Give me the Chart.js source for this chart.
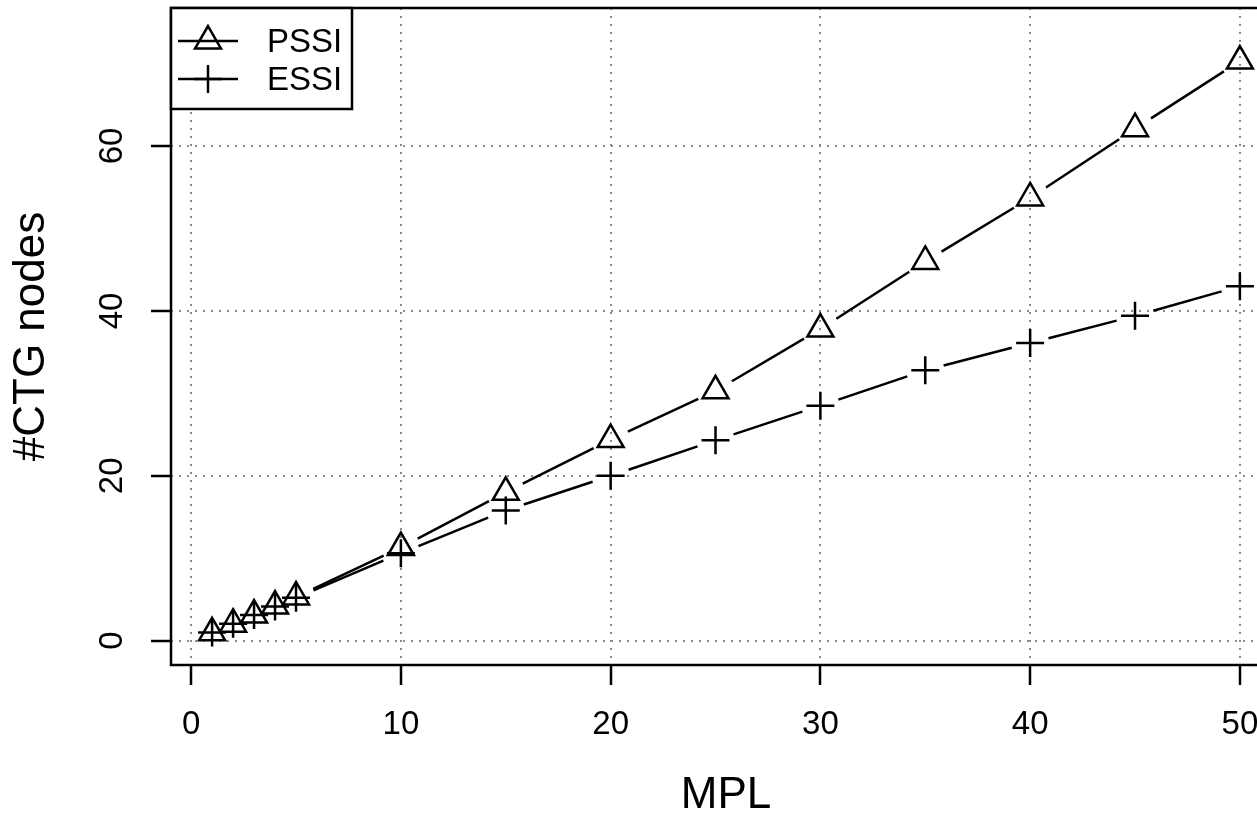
<!DOCTYPE html>
<html>
<head>
<meta charset="utf-8">
<title>#CTG nodes vs MPL</title>
<script src="https://cdn.jsdelivr.net/npm/chart.js@4"></script>
<style>
  html, body { margin: 0; padding: 0; overflow: hidden; background: #fff; }
  canvas { display: block; }
</style>
</head>
<body>
<canvas id="ctg" width="1290" height="818"></canvas>
<script>
// number of CTG nodes for each MPL setting
var mpl = [1, 2, 3, 4, 5, 10, 15, 20, 25, 30, 35, 40, 45, 50];
var pssiNodes = [0.95, 2.0, 3.1, 4.2, 5.3, 11.3, 18.0, 24.4, 30.3, 37.8, 46.0, 53.7, 62.1, 70.3];
var essiNodes = [1.0, 2.05, 3.1, 4.15, 5.2, 10.6, 15.8, 20.0, 24.3, 28.5, 32.8, 36.1, 39.4, 43.0];
var seriesNames = ['PSSI', 'ESSI'];
var xTicks = [0, 10, 20, 30, 40, 50];
var yTicks = [0, 20, 40, 60];

var FONT = "'Liberation Sans', Arial, Helvetica, sans-serif";
Chart.defaults.font.family = FONT;
Chart.defaults.color = '#000';

function toXY(xs, ys) {
  return xs.map(function (x, i) { return { x: x, y: ys[i] }; });
}

// lines between points, stopped short of each marker (R type="b" look)
var gapLines = {
  id: 'gapLines',
  beforeDatasetsDraw: function (chart) {
    var ctx = chart.ctx;
    var area = chart.chartArea;
    var gap = 19;
    ctx.save();
    ctx.beginPath();
    ctx.rect(area.left, area.top, area.right - area.left, area.bottom - area.top);
    ctx.clip();
    ctx.strokeStyle = '#000';
    ctx.lineWidth = 2.5;
    chart.data.datasets.forEach(function (ds, di) {
      var pts = chart.getDatasetMeta(di).data;
      for (var i = 1; i < pts.length; i++) {
        var a = pts[i - 1], b = pts[i];
        var dx = b.x - a.x, dy = b.y - a.y;
        var len = Math.sqrt(dx * dx + dy * dy);
        if (len <= 2 * gap) continue;
        var ux = dx / len, uy = dy / len;
        ctx.beginPath();
        ctx.moveTo(a.x + ux * gap, a.y + uy * gap);
        ctx.lineTo(b.x - ux * gap, b.y - uy * gap);
        ctx.stroke();
      }
    });
    ctx.restore();
  }
};

// plot box, rotated y tick labels and the boxed legend
var frame = {
  id: 'frame',
  afterDraw: function (chart) {
    var ctx = chart.ctx;
    var area = chart.chartArea;
    var yScale = chart.scales.y;
    ctx.save();
    ctx.strokeStyle = '#000';
    ctx.lineWidth = 2.5;
    ctx.strokeRect(area.left, area.top, area.right - area.left, area.bottom - area.top);

    // y tick labels, parallel to the axis
    ctx.fillStyle = '#000';
    ctx.font = '33px ' + FONT;
    ctx.textAlign = 'center';
    ctx.textBaseline = 'middle';
    yTicks.forEach(function (v) {
      ctx.save();
      ctx.translate(113, yScale.getPixelForValue(v));
      ctx.rotate(-Math.PI / 2);
      ctx.fillText(String(v), 0, 0);
      ctx.restore();
    });

    // legend
    var lx = area.left, ly = area.top;
    ctx.fillStyle = '#fff';
    ctx.fillRect(lx, ly, 181, 101);
    ctx.strokeRect(lx, ly, 181, 101);
    var rows = [ly + 33, ly + 71];
    chart.data.datasets.forEach(function (ds, di) {
      var ry = rows[di];
      ctx.strokeStyle = '#000';
      ctx.lineWidth = 2.5;
      ctx.beginPath();
      ctx.moveTo(lx + 7, ry);
      ctx.lineTo(lx + 67, ry);
      ctx.stroke();
      ctx.fillStyle = 'rgba(0,0,0,0)';
      Chart.helpers.drawPoint(ctx, {
        pointStyle: ds.pointStyle,
        radius: ds.pointRadius,
        rotation: 0,
        borderWidth: ds.pointBorderWidth
      }, lx + 37, ry);
      ctx.fillStyle = '#000';
      ctx.textAlign = 'left';
      ctx.textBaseline = 'middle';
      ctx.font = '33px ' + FONT;
      ctx.fillText(ds.label, lx + 96, ry + 2);
    });
    ctx.restore();
  }
};

var gridStyle = {
  color: '#8a8a8a',
  lineWidth: 2,
  borderDash: [2, 6],
  drawTicks: true,
  tickLength: 20,
  tickColor: '#000',
  tickWidth: 2.5,
  tickBorderDash: []
};

new Chart(document.getElementById('ctg'), {
  type: 'scatter',
  data: {
    datasets: [{
      label: seriesNames[0],
      data: toXY(mpl, pssiNodes),
      showLine: false,
      pointStyle: 'triangle',
      pointRadius: 15,
      pointBorderWidth: 2.5,
      pointBorderColor: '#000',
      pointBackgroundColor: 'rgba(0,0,0,0)'
    }, {
      label: seriesNames[1],
      data: toXY(mpl, essiNodes),
      showLine: false,
      pointStyle: 'cross',
      pointRadius: 14,
      pointBorderWidth: 2.5,
      pointBorderColor: '#000',
      pointBackgroundColor: 'rgba(0,0,0,0)'
    }]
  },
  options: {
    responsive: false,
    animation: false,
    events: [],
    layout: { autoPadding: false, padding: { left: 0, top: 8, right: 9, bottom: 0 } },
    plugins: {
      legend: { display: false },
      tooltip: { enabled: false }
    },
    scales: {
      x: {
        type: 'linear',
        position: 'bottom',
        min: -0.96,
        max: 51.96,
        afterBuildTicks: function (scale) {
          scale.ticks = xTicks.map(function (v) { return { value: v }; });
        },
        afterFit: function (scale) { scale.height = 153; },
        grid: gridStyle,
        border: { display: false, dash: [2, 6] },
        ticks: { font: { size: 33 }, color: '#000', padding: 20, maxRotation: 0, autoSkip: false },
        title: {
          display: true,
          text: 'MPL',
          font: { size: 44, lineHeight: 1 },
          color: '#000',
          padding: { top: 0, bottom: 0 }
        }
      },
      y: {
        type: 'linear',
        position: 'left',
        min: -2.95,
        max: 76.74,
        afterBuildTicks: function (scale) {
          scale.ticks = yTicks.map(function (v) { return { value: v }; });
        },
        afterFit: function (scale) { scale.width = 171; },
        grid: gridStyle,
        border: { display: false, dash: [2, 6] },
        ticks: { display: false },
        title: {
          display: true,
          text: '#CTG nodes',
          font: { size: 44, lineHeight: 1 },
          color: '#000',
          padding: { top: 10, bottom: 0 }
        }
      }
    }
  },
  plugins: [gapLines, frame]
});
</script>
</body>
</html>
